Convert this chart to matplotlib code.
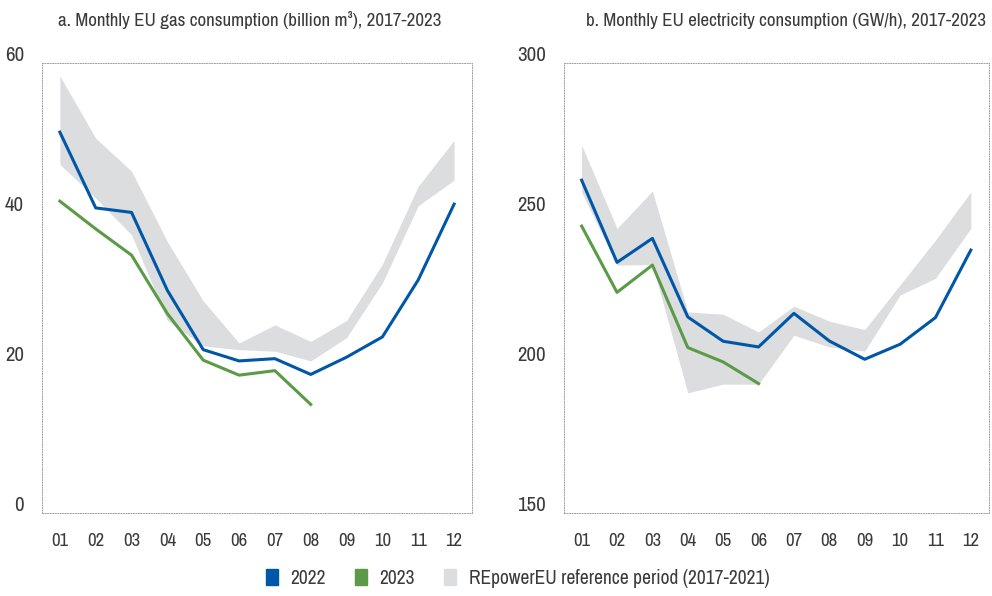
import matplotlib
matplotlib.use("Agg")
import matplotlib.pyplot as plt
from matplotlib.patches import Patch
from matplotlib.transforms import ScaledTranslation
from matplotlib import font_manager

# look for a condensed / narrow face, fall back to a plain sans
family = 'Lato'
stretch = 'normal'
for f in font_manager.fontManager.ttflist:
    if 'Condensed' in f.name or 'Narrow' in f.name:
        family = f.name
        break
else:
    for f in font_manager.fontManager.ttflist:
        if f.name == 'DejaVu Sans' and f.stretch == 'condensed':
            family = 'DejaVu Sans'
            stretch = 'condensed'
            break
plt.rcParams['font.family'] = [family, 'DejaVu Sans']
plt.rcParams['font.stretch'] = stretch

months = [1, 2, 3, 4, 5, 6, 7, 8, 9, 10, 11, 12]
month_labels = ['01', '02', '03', '04', '05', '06', '07', '08', '09', '10', '11', '12']

# a. gas consumption (billion m3)
gas_2022 = [50.8, 40.7, 40.1, 29.7, 21.8, 20.3, 20.6, 18.5, 20.8, 23.5, 31.1, 41.2]
gas_2023 = [41.6, 37.9, 34.4, 26.6, 20.4, 18.4, 19.0, 14.5]
gas_ref_low = [46.5, 42.0, 37.1, 25.7, 22.3, 21.8, 21.6, 20.3, 23.4, 30.7, 41.0, 44.4]
gas_ref_high = [58.3, 50.0, 45.6, 36.2, 28.3, 22.7, 25.1, 22.9, 25.7, 33.2, 43.6, 49.7]

# b. electricity consumption (GW/h)
elec_2022 = [261.0, 233.6, 241.6, 215.4, 207.3, 205.4, 216.6, 207.4, 201.3, 206.3, 215.2, 237.7]
elec_2023 = [245.7, 223.6, 232.7, 205.2, 200.4, 193.2]
elec_ref_low = [257.0, 232.7, 232.9, 190.1, 193.0, 193.0, 209.3, 205.4, 204.0, 222.7, 228.3, 244.9]
elec_ref_high = [272.7, 244.9, 257.4, 217.1, 216.3, 210.4, 219.0, 214.0, 211.2, 226.1, 241.0, 257.1]

BLUE = '#0057a8'
GREEN = '#5b9a46'
GREY = '#dcdddf'
TEXT = '#3a3a3a'
YFS = 15
XFS = 13.5
TFS = 13.7
LFS = 14

fig = plt.figure(figsize=(9.92, 5.96), dpi=100)
ax1 = fig.add_axes([0.0423, 0.139, 0.4335, 0.755])
ax2 = fig.add_axes([0.5685, 0.139, 0.428, 0.755])


def draw_panel(ax, title, title_x, y22, y23, low, high, ylim, yticks):
    ax.fill_between(months, low, high, color=GREY, linewidth=0, zorder=1)
    ax.plot(months, y22, color=BLUE, linewidth=2.2, zorder=3)
    ax.plot(months[:len(y23)], y23, color=GREEN, linewidth=2.2, zorder=2)
    ax.set_xlim(0.5, 12.5)
    ax.set_ylim(*ylim)
    ax.set_xticks(months)
    ax.set_xticklabels(month_labels)
    ax.set_yticks(yticks)
    ax.tick_params(length=0, labelcolor=TEXT)
    ax.tick_params(axis='x', pad=14, labelsize=XFS)
    ax.tick_params(axis='y', pad=13, labelsize=YFS)
    for lab in ax.get_yticklabels():
        lab.set_transform(lab.get_transform() + ScaledTranslation(0, 7 / 72, fig.dpi_scale_trans))
    for sp in ax.spines.values():
        sp.set_linestyle((0, (1, 1.6)))
        sp.set_color('#a0a0a0')
        sp.set_linewidth(0.7)
    ax.set_title(title, fontsize=TFS, color=TEXT, pad=27, x=title_x)


draw_panel(ax1, 'a. Monthly EU gas consumption (billion m³), 2017-2023', 0.484,
           gas_2022, gas_2023, gas_ref_low, gas_ref_high, (0, 60), [0, 20, 40, 60])
draw_panel(ax2, 'b. Monthly EU electricity consumption (GW/h), 2017-2023', 0.522,
           elec_2022, elec_2023, elec_ref_low, elec_ref_high, (150, 300), [150, 200, 250, 300])

handles = [Patch(color=BLUE), Patch(color=GREEN), Patch(color=GREY)]
fig.legend(handles, ['2022', '2023', 'REpowerEU reference period (2017-2021)'],
           loc='center', bbox_to_anchor=(0.522, 0.03), ncol=3, frameon=False,
           fontsize=LFS, labelcolor=TEXT, handlelength=0.6, handleheight=0.95,
           handletextpad=0.65, columnspacing=1.5)

fig.savefig('out.png', dpi=100)
